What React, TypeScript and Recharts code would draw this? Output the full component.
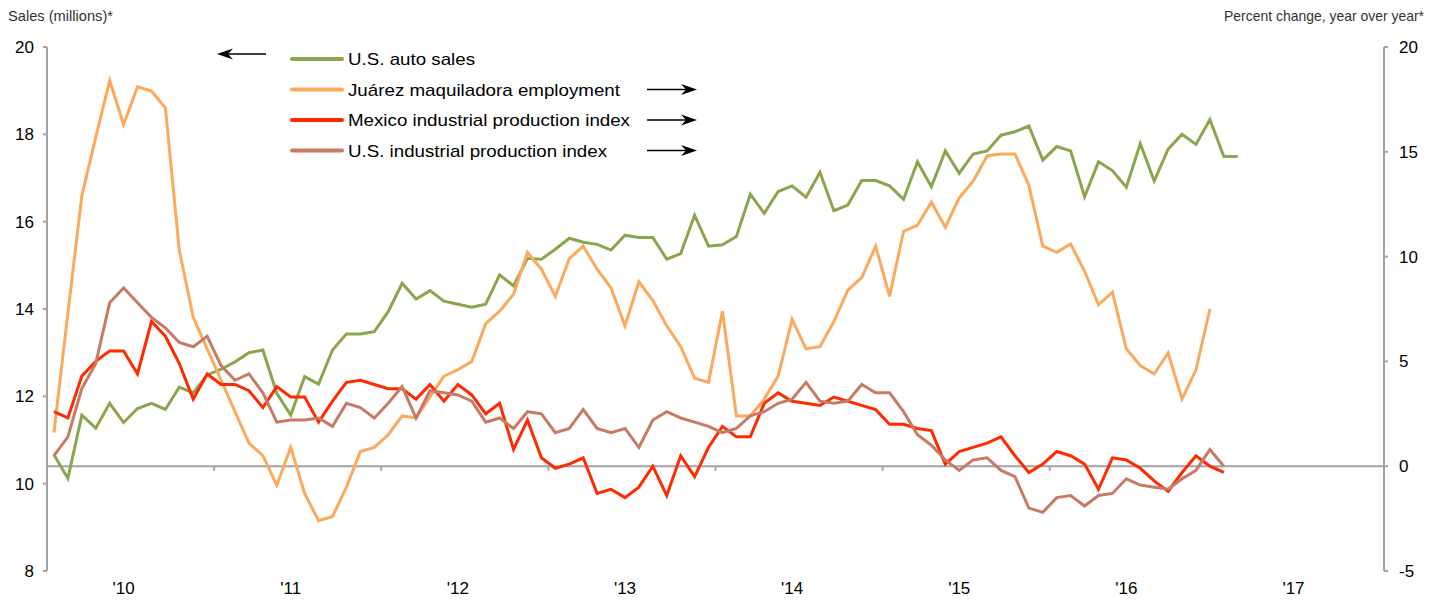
import React from "react";
import { LineChart, Line, XAxis, YAxis, ReferenceLine, Legend } from "recharts";

// Monthly data, Jan 2010 onward
const yearLabels = ["'10", "'11", "'12", "'13", "'14", "'15", "'16", "'17"];

// U.S. auto sales, millions (left axis)
const autoSales = [
  10.66, 10.12, 11.57, 11.27, 11.84, 11.4, 11.72, 11.84, 11.7, 12.21, 12.08, 12.49,
  12.62, 12.79, 13.0, 13.06, 12.07, 11.57, 12.45, 12.28, 13.06, 13.43, 13.43, 13.48,
  13.94, 14.59, 14.23, 14.42, 14.18, 14.11, 14.04, 14.11, 14.78, 14.53, 15.16, 15.14,
  15.37, 15.62, 15.53, 15.48, 15.35, 15.69, 15.64, 15.64, 15.14, 15.27, 16.15, 15.44,
  15.47, 15.66, 16.63, 16.19, 16.69, 16.82, 16.56, 17.13, 16.25, 16.38, 16.94, 16.94,
  16.82, 16.51, 17.37, 16.8, 17.62, 17.11, 17.55, 17.62, 17.98, 18.06, 18.19, 17.41,
  17.72, 17.62, 16.57, 17.37, 17.17, 16.79, 17.79, 16.93, 17.66, 18.0, 17.77, 18.34,
  17.49, 17.49,
];

// Juárez maquiladora employment, % y/y (right axis)
const juarezEmployment = [
  1.6, 7.3, 12.9, 15.7, 18.4, 16.3, 18.1, 17.9, 17.1, 10.3, 7.1, 5.6,
  4.1, 2.6, 1.1, 0.5, -0.9, 0.9, -1.3, -2.6, -2.4, -1.0, 0.7, 0.9,
  1.5, 2.4, 2.3, 3.3, 4.3, 4.6, 5.0, 6.8, 7.4, 8.2, 10.2, 9.4,
  8.1, 9.9, 10.5, 9.4, 8.5, 6.7, 8.8, 7.9, 6.7, 5.7, 4.2, 4.0,
  7.4, 2.4, 2.4, 3.2, 4.3, 7.0, 5.6, 5.7, 6.9, 8.4, 9.0, 10.5,
  8.1, 11.2, 11.5, 12.6, 11.4, 12.8, 13.6, 14.8, 14.9, 14.9, 13.4, 10.5,
  10.2, 10.6, 9.3, 7.7, 8.3, 5.6, 4.8, 4.4, 5.4, 3.2, 4.6, 7.5,
];

// Mexico industrial production index, % y/y (right axis)
const mexicoIP = [
  2.6, 2.3, 4.3, 5.0, 5.5, 5.5, 4.4, 6.9, 6.2, 4.9, 3.2, 4.4,
  3.9, 3.9, 3.6, 2.8, 3.8, 3.3, 3.3, 2.1, 3.1, 4.0, 4.1, 3.9,
  3.7, 3.7, 3.2, 3.9, 3.1, 3.9, 3.4, 2.5, 3.0, 0.8, 2.2, 0.4,
  -0.1, 0.1, 0.4, -1.3, -1.1, -1.5, -1.0, 0.0, -1.4, 0.5, -0.5, 0.9,
  1.9, 1.4, 1.4, 3.0, 3.5, 3.1, 3.0, 2.9, 3.3, 3.1, 2.9, 2.7,
  2.0, 2.0, 1.8, 1.7, 0.1, 0.7, 0.9, 1.1, 1.4, 0.5, -0.3, 0.1,
  0.7, 0.5, 0.1, -1.1, 0.4, 0.3, -0.1, -0.7, -1.2, -0.3, 0.5, 0.0,
  -0.3,
];

// U.S. industrial production index, % y/y (right axis)
const usIP = [
  0.5, 1.4, 3.7, 4.9, 7.8, 8.5, 7.8, 7.1, 6.6, 5.9, 5.7, 6.2,
  4.8, 4.1, 4.4, 3.5, 2.1, 2.2, 2.2, 2.3, 1.9, 3.0, 2.8, 2.3,
  3.0, 3.8, 2.3, 3.6, 3.5, 3.4, 3.1, 2.1, 2.3, 1.8, 2.6, 2.5,
  1.6, 1.8, 2.7, 1.8, 1.6, 1.8, 0.9, 2.2, 2.6, 2.3, 2.1, 1.9,
  1.6, 1.8, 2.4, 2.6, 3.0, 3.2, 4.0, 3.1, 3.0, 3.1, 3.9, 3.5,
  3.5, 2.6, 1.5, 1.0, 0.3, -0.2, 0.3, 0.4, -0.2, -0.5, -2.0, -2.2,
  -1.5, -1.4, -1.9, -1.4, -1.3, -0.6, -0.9, -1.0, -1.1, -0.6, -0.2, 0.8,
  0.0,
];

const leftTicks = [8, 10, 12, 14, 16, 18, 20];
const rightTicks = [-5, 0, 5, 10, 15, 20];

const seriesNames = [
  "U.S. auto sales",
  "Juárez maquiladora employment",
  "Mexico industrial production index",
  "U.S. industrial production index",
];
const colors = ["#8aa64c", "#fba95c", "#ff2a00", "#c77b64"];
const arrowDir = ["left", "right", "right", "right"];
const legendTextWidths = [127, 272, 282, 259];

const MONTHS = yearLabels.length * 12;
const data = Array.from({ length: MONTHS }, (_, i) => ({
  x: i + 0.5,
  auto: autoSales[i] ?? null,
  juarez: juarezEmployment[i] ?? null,
  mexico: mexicoIP[i] ?? null,
  usip: usIP[i] ?? null,
}));

const yearCenters = yearLabels.map((_, k) => k * 12 + 5.5);
const yearBounds = yearLabels.slice(1).map((_, k) => (k + 1) * 12);

const FONT = "'Liberation Sans', Arial, Helvetica, sans-serif";
const AXIS = "#a3a3a3";

const Arrow = ({ x1, x2, y }: { x1: number; x2: number; y: number }) => {
  const dir = x2 > x1 ? 1 : -1;
  const hx = x2;
  return (
    <g>
      <line x1={x1} y1={y} x2={x2 - dir * 8} y2={y} stroke="#000" strokeWidth={1.6} />
      <path
        d={`M${hx},${y} L${hx - dir * 16},${y - 5.5} L${hx - dir * 11},${y} L${hx - dir * 16},${y + 5.5} Z`}
        fill="#000"
      />
    </g>
  );
};

const LegendBlock = () => (
  <svg width={520} height={130} style={{ display: "block", overflow: "visible" }}>
    {seriesNames.map((name, i) => {
      const y = 19 + i * 30.5;
      return (
        <g key={name}>
          <line x1={92} x2={142} y1={y} y2={y} stroke={colors[i]} strokeWidth={4} strokeLinecap="round" />
          <text
            x={148}
            y={y}
            dy="0.36em"
            fontSize={17}
            fill="#000"
            fontFamily={FONT}
            textLength={legendTextWidths[i]}
            lengthAdjust="spacingAndGlyphs"
          >
            {name}
          </text>
          {arrowDir[i] === "left" ? (
            <Arrow x1={66} x2={17} y={14} />
          ) : (
            <Arrow x1={447} x2={497} y={y} />
          )}
        </g>
      );
    })}
  </svg>
);

const LeftTitle = () => (
  <text x={8} y={21} fontSize={15} fill="#333" fontFamily={FONT} textLength={105} lengthAdjust="spacingAndGlyphs">
    Sales (millions)*
  </text>
);
const RightTitle = () => (
  <text x={1224} y={21} fontSize={15} fill="#333" fontFamily={FONT} textLength={200} lengthAdjust="spacingAndGlyphs">
    Percent change, year over year*
  </text>
);

export default function App() {
  return (
    <div style={{ position: "absolute", left: 0, top: 0, width: 1440, height: 603, fontFamily: FONT, background: "#fff" }}>
      <LineChart
        width={1440}
        height={603}
        data={data}
        margin={{ top: 47, right: 10, bottom: 0, left: 7 }}
      >
        <XAxis
          xAxisId={0}
          dataKey="x"
          type="number"
          domain={[0, MONTHS]}
          ticks={yearCenters}
          interval={0}
          tickFormatter={(_v: number, idx: number) => yearLabels[idx]}
          tickLine={false}
          axisLine={false}
          tickSize={0}
          tickMargin={11}
          height={32}
          tick={{ fill: "#000", fontSize: 17 }}
        />
        <YAxis
          yAxisId="left"
          orientation="left"
          domain={[8, 20]}
          ticks={leftTicks}
          interval={0}
          width={40}
          axisLine={{ stroke: AXIS, strokeWidth: 2 }}
          tickLine={{ stroke: AXIS, strokeWidth: 2 }}
          tickSize={4}
          tickMargin={9}
          tick={{ fill: "#000", fontSize: 17 }}
          label={{ content: () => <LeftTitle /> }}
        />
        <YAxis
          yAxisId="right"
          orientation="right"
          domain={[-5, 20]}
          ticks={rightTicks}
          interval={0}
          width={46}
          axisLine={{ stroke: AXIS, strokeWidth: 2 }}
          tickLine={{ stroke: AXIS, strokeWidth: 2 }}
          tickSize={4}
          tickMargin={11}
          tick={{ fill: "#000", fontSize: 17, textAnchor: "start" }}
          label={{ content: () => <RightTitle /> }}
        />
        <ReferenceLine yAxisId="right" y={0} stroke={AXIS} strokeWidth={2} />
        {yearBounds.map((b) => (
          <ReferenceLine
            key={b}
            yAxisId="right"
            segment={[
              { x: b, y: 0 },
              { x: b, y: -0.22 },
            ]}
            stroke={AXIS}
            strokeWidth={2}
          />
        ))}
        <Legend
          layout="vertical"
          align="center"
          verticalAlign="middle"
          wrapperStyle={{ position: "absolute", left: 200, top: 40, width: 520, height: 130 }}
          content={() => <LegendBlock />}
        />
        <Line yAxisId="left" dataKey="auto" name={seriesNames[0]} stroke={colors[0]} strokeWidth={3} dot={false} isAnimationActive={false} />
        <Line yAxisId="right" dataKey="juarez" name={seriesNames[1]} stroke={colors[1]} strokeWidth={3} dot={false} isAnimationActive={false} />
        <Line yAxisId="right" dataKey="mexico" name={seriesNames[2]} stroke={colors[2]} strokeWidth={3} dot={false} isAnimationActive={false} />
        <Line yAxisId="right" dataKey="usip" name={seriesNames[3]} stroke={colors[3]} strokeWidth={3} dot={false} isAnimationActive={false} />
      </LineChart>
    </div>
  );
}
